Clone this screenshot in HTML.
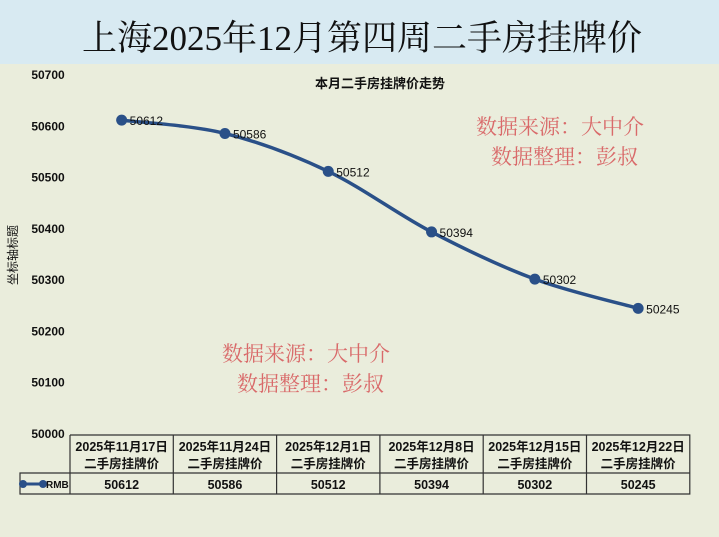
<!DOCTYPE html>
<html><head><meta charset="utf-8"><style>
body{margin:0;width:719px;height:532px;overflow:hidden;background:#eaeddc;font-family:"Liberation Sans","Noto Sans CJK SC",sans-serif}
</style></head><body>
<svg width="719" height="532" xmlns="http://www.w3.org/2000/svg">
<rect x="0" y="0" width="719" height="64" fill="#d8eaf2"/>
<text x="362" y="50" text-anchor="middle" font-size="35" font-family="'Liberation Serif','Noto Serif CJK SC',serif" fill="#111">上海2025年12月第四周二手房挂牌价</text>
<text x="380" y="88" text-anchor="middle" font-size="13" font-weight="bold" fill="#111">本月二手房挂牌价走势</text>
<text x="17" y="255" text-anchor="middle" font-size="12" fill="#111" transform="rotate(-90 17 255)">坐标轴标题</text>
<g id="yticks"></g>
<g id="watermarks" font-size="21" fill="#d96a6a" font-family="'Liberation Serif','Noto Serif CJK SC',serif">
<text x="476" y="134">数据来源：大中介</text>
<text x="491" y="164">数据整理：彭叔</text>
<text x="222" y="361">数据来源：大中介</text>
<text x="237" y="391">数据整理：彭叔</text>
</g>
<path id="line" fill="none" stroke="#2a5088" stroke-width="3.5"/>
<g id="pts"></g>
<g id="table" font-size="12.5" fill="#111"></g>
</svg>
<script>
const cats1=["2025年11月17日","2025年11月24日","2025年12月1日","2025年12月8日","2025年12月15日","2025年12月22日"];
const values=[50612,50586,50512,50394,50302,50245];
const yTicks=[50000,50100,50200,50300,50400,50500,50600,50700];
const NS="http://www.w3.org/2000/svg";
const x0=70,colW=103.3,yTop=75,yBot=434,vMin=50000,vMax=50700;
const xs=i=>x0+colW*(i+0.5);
const ys=v=>yBot-(v-vMin)/(vMax-vMin)*(yBot-yTop);
function mk(t,a,p){const e=document.createElementNS(NS,t);for(const k in a)e.setAttribute(k,a[k]);p.appendChild(e);return e;}
const yt=document.getElementById('yticks');
yTicks.forEach(v=>{const t=mk('text',{x:48,y:ys(v)+4,'text-anchor':'middle','font-size':12,'font-weight':'bold',fill:'#111'},yt);t.textContent=v;

});
const P=values.map((v,i)=>[xs(i),ys(v)]);
let d=`M${P[0][0]},${P[0][1]}`;
for(let i=0;i<P.length-1;i++){const p0=P[i-1]||P[i],p1=P[i],p2=P[i+1],p3=P[i+2]||P[i+1];
d+=` C${p1[0]+(p2[0]-p0[0])/6},${p1[1]+(p2[1]-p0[1])/6} ${p2[0]-(p3[0]-p1[0])/6},${p2[1]-(p3[1]-p1[1])/6} ${p2[0]},${p2[1]}`;}
document.getElementById('line').setAttribute('d',d);
const pg=document.getElementById('pts');
values.forEach((v,i)=>{const c=mk('circle',{cx:xs(i),cy:ys(v),r:5.5,fill:'#2a5088'},pg);


const t=mk('text',{x:xs(i)+8,y:ys(v)+5,'font-size':12,fill:'#111'},pg);t.textContent=v;

});
const tb=document.getElementById('table');
const tTop=435,tMid=473,tBot=494,xEnd=x0+colW*6;
mk('path',{d:`M${x0},${tTop}H${xEnd}V${tBot}H20V${tMid}H${xEnd}M20,${tMid}V${tBot}M${x0},${tTop}V${tBot}`+cats1.map((c,i)=>`M${x0+colW*(i+1)},${tTop}V${tBot}`).join(''),stroke:'#333','stroke-width':1.2,fill:'none'},tb);
cats1.forEach((c,i)=>{const t1=mk('text',{x:xs(i),y:451,'text-anchor':'middle','font-weight':'bold'},tb);t1.textContent=c;


const t2=mk('text',{x:xs(i),y:468,'text-anchor':'middle','font-weight':'bold'},tb);t2.textContent='二手房挂牌价';


const t3=mk('text',{x:xs(i),y:489,'text-anchor':'middle','font-weight':'bold'},tb);t3.textContent=values[i];

});
mk('line',{x1:23,y1:484,x2:44,y2:484,stroke:'#2a5088','stroke-width':3},tb);
mk('circle',{cx:23,cy:484,r:4,fill:'#2a5088'},tb);mk('circle',{cx:43,cy:484,r:4,fill:'#2a5088'},tb);
const lg=mk('text',{x:46,y:488,'font-size':10,'font-weight':'bold'},tb);lg.textContent='RMB';


</script>
</body></html>
